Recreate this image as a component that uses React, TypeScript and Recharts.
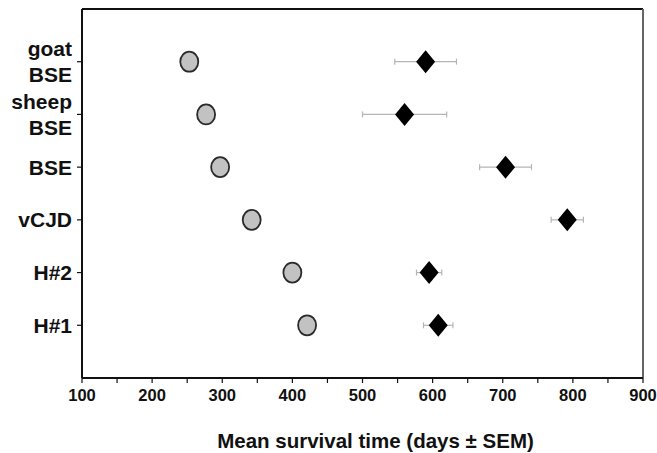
import {
  ScatterChart,
  Scatter,
  XAxis,
  YAxis,
  ErrorBar,
  ReferenceLine,
} from "recharts";

// rows from top to bottom
const categories = ["goat\nBSE", "sheep\nBSE", "BSE", "vCJD", "H#2", "H#1"];
const circleMeans = [253, 277, 297, 342, 400, 421];
const diamondMeans = [590, 560, 704, 792, 595, 608];
const diamondSem = [44, 60, 37, 23, 18, 21];
const xTicks = [
  100, 150, 200, 250, 300, 350, 400, 450, 500, 550, 600, 650, 700, 750, 800,
  850, 900,
];

const FONT = "'Liberation Sans', Arial, Helvetica, sans-serif";

const rowOf = (i: number) => categories.length - i;

const circleData = categories.map((c, i) => ({
  name: c,
  x: circleMeans[i],
  y: rowOf(i),
}));

const diamondData = categories.map((c, i) => ({
  name: c,
  x: diamondMeans[i],
  y: rowOf(i),
  err: diamondSem[i],
}));

function CircleShape(props: any) {
  const { cx, cy } = props;
  if (cx == null || cy == null) return null;
  return (
    <ellipse
      cx={cx}
      cy={cy}
      rx={9}
      ry={10}
      fill="#c2c2c2"
      stroke="#2a2a2a"
      strokeWidth={1.8}
    />
  );
}

function DiamondShape(props: any) {
  const { cx, cy } = props;
  if (cx == null || cy == null) return null;
  const w = 9.5;
  const h = 11.5;
  return (
    <polygon
      points={`${cx},${cy - h} ${cx + w},${cy} ${cx},${cy + h} ${cx - w},${cy}`}
      fill="#000"
    />
  );
}

function CategoryTick(props: any) {
  const { x, y, payload } = props;
  const idx = categories.length - payload.value;
  const label = categories[idx];
  if (!label) return null;
  const lines = label.split("\n");
  const gap = 25.7;
  return (
    <text
      x={x - 3}
      textAnchor="end"
      fontFamily={FONT}
      fontWeight="bold"
      fontSize={21}
      fill="#111"
    >
      {lines.map((line: string, i: number) => (
        <tspan key={i} x={x - 3} y={y + 7.5 + (i - (lines.length - 1) / 2) * gap}>
          {line}
        </tspan>
      ))}
    </text>
  );
}

export default function App() {
  return (
    <div
      style={{
        position: "absolute",
        left: 0,
        top: 0,
        width: 657,
        height: 453,
        background: "#fff",
      }}
    >
      <ScatterChart
        width={657}
        height={453}
        margin={{ top: 9, right: 14, bottom: 0, left: 0 }}
      >
        <XAxis
          type="number"
          dataKey="x"
          domain={[100, 900]}
          ticks={xTicks}
          interval={0}
          allowDataOverflow
          height={75}
          axisLine={{ stroke: "#111", strokeWidth: 2 }}
          tickLine={{ stroke: "#111", strokeWidth: 1.2 }}
          tickSize={5}
          tickMargin={6}
          tick={{
            fill: "#111",
            fontSize: 16.5,
            fontWeight: "bold",
            fontFamily: FONT,
          }}
          tickFormatter={(v: number) => (v % 100 === 0 ? String(v) : "")}
          label={{
            value: "Mean survival time (days \u00b1 SEM)",
            position: "insideBottom",
            offset: 5,
            dx: 13,
            fill: "#111",
            fontSize: 20.5,
            fontWeight: "bold",
            fontFamily: FONT,
          }}
        />
        <YAxis
          type="number"
          dataKey="y"
          domain={[0, 7]}
          ticks={[1, 2, 3, 4, 5, 6]}
          interval={0}
          width={82}
          axisLine={{ stroke: "#111", strokeWidth: 2 }}
          tickLine={{ stroke: "#111", strokeWidth: 1.2 }}
          tickSize={5}
          tick={<CategoryTick />}
        />
        <ReferenceLine y={7} stroke="#111" strokeWidth={2} />
        <ReferenceLine x={900} stroke="#666" strokeWidth={2} />
        <Scatter
          data={circleData}
          shape={<CircleShape />}
          isAnimationActive={false}
        />
        <Scatter
          data={diamondData}
          shape={<DiamondShape />}
          isAnimationActive={false}
        >
          <ErrorBar
            dataKey="err"
            direction="x"
            width={3}
            stroke="#b5b5b5"
            strokeWidth={1.2}
            isAnimationActive={false}
          />
        </Scatter>
      </ScatterChart>
    </div>
  );
}
